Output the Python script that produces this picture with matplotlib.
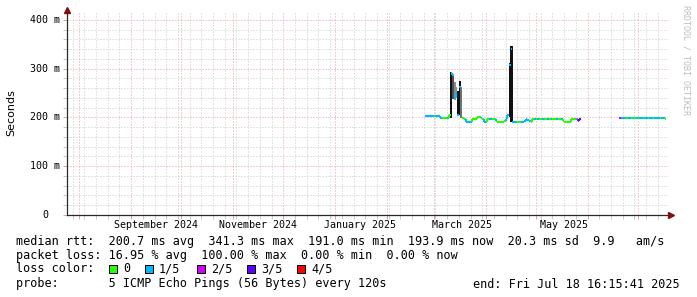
import matplotlib
matplotlib.use('Agg')
import matplotlib.pyplot as plt
import matplotlib.dates as mdates
import matplotlib.ticker as mticker
import matplotlib.transforms as mtrans
from matplotlib.patches import Rectangle
import numpy as np
import pandas as pd

# daily median round trip time (ms) and lost pings (out of 5)
seg1_start = '2025-02-24'
seg1_rtt = [
    203, 203, 203, 202, 203,
    203, 202, 202, 202, 199,
    198, 198, 198, 199, 205,
    292, 287, 240, 252, 205,
    262, 222, 198, 197, 191,
    191, 191, 191, 196, 196,
    196, 200, 200, 199, 196,
    191, 191, 196, 196, 197,
    196, 196, 193, 191, 191,
    191, 191, 193, 196, 205,
    308, 341, 191, 191, 191,
    191, 191, 191, 191, 193,
    196, 195, 193, 191, 197,
    197, 197, 197, 197, 197,
    197, 197, 197, 197, 197,
    197, 197, 197, 197, 197,
    197, 197, 192, 191, 191,
    191, 191, 196, 197, 197,
    196, 193, 196,
]
seg1_loss = [
    1, 1, 1, 1, 1,
    0, 1, 1, 1, 1,
    0, 0, 0, 1, 0,
    1, 1, 1, 1, 1,
    1, 1, 0, 0, 1,
    1, 1, 1, 0, 0,
    0, 0, 0, 1, 0,
    1, 0, 0, 1, 1,
    0, 0, 1, 0, 0,
    0, 0, 0, 1, 1,
    1, 1, 1, 1, 1,
    0, 0, 1, 1, 1,
    1, 1, 1, 0, 0,
    1, 0, 1, 0, 0,
    1, 0, 0, 1, 0,
    1, 0, 0, 1, 0,
    0, 1, 0, 0, 0,
    0, 0, 0, 0, 0,
    1, 2, 3,
]
seg2_start = '2025-06-20'
seg2_rtt = [199, 198, 199, 199, 199, 199, 198, 199, 199, 199,
            199, 199, 199, 199, 199, 199, 199, 199, 199, 199,
            199, 199, 199, 199, 199, 199, 199, 197]
seg2_loss = [2, 1, 1, 1, 0, 1, 1, 0, 1, 0,
             1, 0, 1, 1, 0, 1, 1, 0, 1, 1,
             0, 1, 1, 1, 0, 1, 1, 0]

# spread of the single pings on the noisy days (smoke)
smoke_days = ['2025-03-11', '2025-03-12', '2025-03-13', '2025-03-14',
              '2025-03-15', '2025-03-16', '2025-03-17', '2025-04-15', '2025-04-16']
smoke_lo = [198, 238, 236, 240, 205, 205, 198, 200, 191]
smoke_hi = [294, 290, 272, 262, 255, 275, 262, 312, 346]
smoke_shade = ['#111111', '#505050', '#8c8c8c', '#8c8c8c', '#111111',
               '#111111', '#707070', '#111111', '#111111']

loss_colors = ['#26ff00', '#00b8ff', '#d000ff', '#5e00ff', '#ff0000']
loss_labels = ['0', '1/5', '2/5', '3/5', '4/5']

month_labels = ['September 2024', 'November 2024', 'January 2025', 'March 2025', 'May 2025']
month_label_days = ['2024-09-16', '2024-11-16', '2025-01-16', '2025-03-18', '2025-05-18']
y_ticks = [0, 100, 200, 300, 400]

rtt_line = 'median rtt:  200.7 ms avg  341.3 ms max  191.0 ms min  193.9 ms now  20.3 ms sd  9.9   am/s'
loss_line = 'packet loss: 16.95 % avg  100.00 % max  0.00 % min  0.00 % now'
probe_line = 'probe:       5 ICMP Echo Pings (56 Bytes) every 120s'
end_line = 'end: Fri Jul 18 16:15:41 2025'

W, H = 697, 297
MONO = 'DejaVu Sans Mono'
GRID = '#cbcbcb'
MGRID = '#e8a0a0'
ARROW = '#7f1010'


def fx(x):
    return x / W


def fy(y):
    return 1 - y / H


fig = plt.figure(figsize=(W / 100, H / 100), dpi=100)
fig.patch.set_facecolor('white')
ax = fig.add_axes([fx(67), fy(215), (668 - 67) / W, (215 - 13) / H])
ax.set_facecolor('white')

ax.set_xlim(mdates.date2num(pd.Timestamp('2024-07-24 15:00')),
            mdates.date2num(pd.Timestamp('2025-07-19 02:00')))
ax.set_ylim(0, 414)

ax.xaxis.set_major_locator(mdates.MonthLocator())
ax.xaxis.set_minor_locator(mdates.WeekdayLocator(byweekday=mdates.SU))
ax.yaxis.set_major_locator(mticker.MultipleLocator(100))
ax.yaxis.set_minor_locator(mticker.MultipleLocator(20))
ax.xaxis.set_major_formatter(mticker.NullFormatter())
ax.yaxis.set_major_formatter(mticker.NullFormatter())

ax.set_axisbelow(True)
ax.grid(True, which='minor', color=GRID, linestyle=(0, (1, 2)), linewidth=0.72)
ax.grid(True, which='major', color=MGRID, linestyle=(0, (1, 2)), linewidth=0.72)
ax.tick_params(which='major', direction='out', length=3, width=0.72, color=MGRID)
ax.tick_params(which='minor', direction='out', length=3, width=0.72, color=GRID)

for side in ['top', 'right']:
    ax.spines[side].set_visible(False)
for side in ['left', 'bottom']:
    ax.spines[side].set_color('#2a2a2a')
    ax.spines[side].set_linewidth(0.9)

ax.plot([(671 - 67) / 601], [0], marker='>', markersize=4.5, color=ARROW,
        transform=ax.transAxes, clip_on=False, zorder=6)
ax.plot([0], [(215 - 10) / 202], marker='^', markersize=4.5, color=ARROW,
        transform=ax.transAxes, clip_on=False, zorder=6)

# smoke: one column per noisy day
for d, lo, hi, c in zip(smoke_days, smoke_lo, smoke_hi, smoke_shade):
    t = mdates.date2num(pd.Timestamp(d))
    ax.fill_between([t - 0.15, t + 1.15], lo, hi, color=c, linewidth=0, zorder=3)


def draw_median(start, rtt, loss):
    t = mdates.date2num(pd.date_range(start, periods=len(rtt), freq='D'))
    rtt = np.array(rtt)
    cols = [loss_colors[k] for k in loss]
    ax.hlines(rtt, t, t + 1, colors=cols, linewidth=1.5, zorder=5)
    # small steps are joined in the line colour, big jumps are left to the smoke
    small = np.abs(np.diff(rtt)) <= 12
    idx = np.nonzero(small)[0] + 1
    ax.vlines(t[idx], rtt[idx - 1], rtt[idx], colors=[cols[i] for i in idx],
              linewidth=1.5, zorder=5)


draw_median(seg1_start, seg1_rtt, seg1_loss)
draw_median(seg2_start, seg2_rtt, seg2_loss)

# axis labels
ylab_tr = mtrans.blended_transform_factory(fig.transFigure, ax.transData)
for v in y_ticks:
    if v == 0:
        ax.text(fx(45), v, '0', transform=ylab_tr, ha='center', va='center',
                family=MONO, fontsize=7.2)
    else:
        ax.text(fx(60), v, f'{v} m', transform=ylab_tr, ha='right', va='center',
                family=MONO, fontsize=7.2)

xlab_tr = mtrans.blended_transform_factory(ax.transData, fig.transFigure)
for lab, d in zip(month_labels, month_label_days):
    ax.text(mdates.date2num(pd.Timestamp(d)), fy(225), lab, transform=xlab_tr,
            ha='center', va='center', family=MONO, fontsize=7.2)

fig.text(fx(11), fy(113), 'Seconds', rotation=90, ha='center', va='center',
         family='DejaVu Sans', fontsize=8)
fig.text(fx(686), fy(60), 'RRDTOOL / TOBI OETIKER', rotation=270, ha='center',
         va='center', family=MONO, fontsize=6, color='#bdbdbd')

# legend block
fs = 8.47
fig.text(fx(16), fy(241), rtt_line, ha='left', va='center', family=MONO, fontsize=fs)
fig.text(fx(16), fy(255), loss_line, ha='left', va='center', family=MONO, fontsize=fs)
fig.text(fx(16), fy(269), 'loss color:', ha='left', va='center', family=MONO, fontsize=fs)
label_x = [123, 159, 211, 261, 311]
for lab, c, x in zip(loss_labels, loss_colors, label_x):
    fig.add_artist(Rectangle((fx(x - 14), fy(273)), 8 / W, 8 / H, transform=fig.transFigure,
                             facecolor=c, edgecolor='black', linewidth=0.72))
    fig.text(fx(x), fy(269), lab, ha='left', va='center', family=MONO, fontsize=fs)
fig.text(fx(16), fy(284), probe_line, ha='left', va='center', family=MONO, fontsize=fs)
fig.text(fx(680), fy(284), end_line, ha='right', va='center', family=MONO, fontsize=fs)

fig.savefig('out.png', dpi=100, facecolor='white')
